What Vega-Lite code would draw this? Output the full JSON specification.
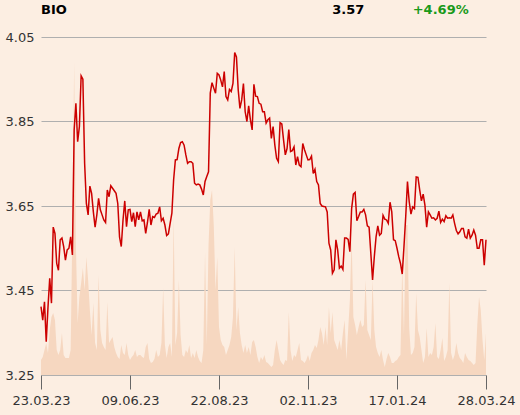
{
"$schema": "https://vega.github.io/schema/vega-lite/v6.json",
"width": 445, "height": 338,
"autosize": {"type": "none"},
"padding": {"left": 41, "top": 37, "right": 34, "bottom": 40},
"background": "#FCEEE2",
"config": {"view": {"stroke": null}, "font": "DejaVu Sans"},
"data": {"values": [
{"d":0,"p":3.412,"v":15},{"d":1,"p":3.380,"v":18},{"d":2,"p":3.423,"v":25},{"d":3,"p":3.329,"v":32},{"d":4,"p":3.410,"v":22},{"d":5,"p":3.479,"v":45},{"d":6,"p":3.420,"v":58},{"d":7,"p":3.600,"v":62},{"d":8,"p":3.585,"v":55},{"d":9,"p":3.514,"v":25},
{"d":10,"p":3.498,"v":20},{"d":11,"p":3.570,"v":25},{"d":12,"p":3.574,"v":42},{"d":13,"p":3.554,"v":20},{"d":14,"p":3.522,"v":17},{"d":15,"p":3.546,"v":17},{"d":16,"p":3.550,"v":17},{"d":17,"p":3.577,"v":25},{"d":18,"p":3.534,"v":150},{"d":19,"p":3.830,"v":313},
{"d":20,"p":3.893,"v":130},{"d":21,"p":3.802,"v":52},{"d":22,"p":3.838,"v":78},{"d":23,"p":3.958,"v":92},{"d":24,"p":3.950,"v":107},{"d":25,"p":3.751,"v":85},{"d":26,"p":3.656,"v":118},{"d":27,"p":3.629,"v":95},{"d":28,"p":3.697,"v":65},{"d":29,"p":3.680,"v":40},
{"d":30,"p":3.636,"v":72},{"d":31,"p":3.600,"v":32},{"d":32,"p":3.629,"v":25},{"d":33,"p":3.668,"v":100},{"d":34,"p":3.641,"v":45},{"d":35,"p":3.629,"v":32},{"d":36,"p":3.617,"v":28},{"d":37,"p":3.611,"v":25},{"d":38,"p":3.688,"v":73},{"d":39,"p":3.672,"v":32},
{"d":40,"p":3.698,"v":35},{"d":41,"p":3.692,"v":38},{"d":42,"p":3.686,"v":28},{"d":43,"p":3.680,"v":22},{"d":44,"p":3.656,"v":18},{"d":45,"p":3.577,"v":16},{"d":46,"p":3.554,"v":30},{"d":47,"p":3.617,"v":22},{"d":48,"p":3.662,"v":20},{"d":49,"p":3.601,"v":32},
{"d":50,"p":3.641,"v":20},{"d":51,"p":3.642,"v":15},{"d":52,"p":3.613,"v":18},{"d":53,"p":3.634,"v":20},{"d":54,"p":3.601,"v":25},{"d":55,"p":3.636,"v":18},{"d":56,"p":3.617,"v":20},{"d":57,"p":3.636,"v":20},{"d":58,"p":3.615,"v":18},{"d":59,"p":3.617,"v":17},
{"d":60,"p":3.585,"v":28},{"d":61,"p":3.611,"v":32},{"d":62,"p":3.642,"v":16},{"d":63,"p":3.605,"v":12},{"d":64,"p":3.625,"v":13},{"d":65,"p":3.623,"v":16},{"d":66,"p":3.631,"v":25},{"d":67,"p":3.633,"v":18},{"d":68,"p":3.648,"v":20},{"d":69,"p":3.615,"v":32},
{"d":70,"p":3.621,"v":87},{"d":71,"p":3.605,"v":30},{"d":72,"p":3.580,"v":17},{"d":73,"p":3.584,"v":28},{"d":74,"p":3.609,"v":32},{"d":75,"p":3.633,"v":18},{"d":76,"p":3.712,"v":158},{"d":77,"p":3.759,"v":30},{"d":78,"p":3.760,"v":42},{"d":79,"p":3.786,"v":95},
{"d":80,"p":3.800,"v":40},{"d":81,"p":3.802,"v":20},{"d":82,"p":3.794,"v":18},{"d":83,"p":3.771,"v":25},{"d":84,"p":3.751,"v":22},{"d":85,"p":3.755,"v":30},{"d":86,"p":3.755,"v":17},{"d":87,"p":3.751,"v":22},{"d":88,"p":3.704,"v":17},{"d":89,"p":3.700,"v":25},
{"d":90,"p":3.702,"v":18},{"d":91,"p":3.700,"v":14},{"d":92,"p":3.690,"v":12},{"d":93,"p":3.676,"v":25},{"d":94,"p":3.708,"v":123},{"d":95,"p":3.720,"v":30},{"d":96,"p":3.731,"v":130},{"d":97,"p":3.917,"v":175},{"d":98,"p":3.942,"v":185},{"d":99,"p":3.929,"v":150},
{"d":100,"p":3.917,"v":85},{"d":101,"p":3.964,"v":118},{"d":102,"p":3.960,"v":48},{"d":103,"p":3.948,"v":35},{"d":104,"p":3.932,"v":30},{"d":105,"p":3.968,"v":28},{"d":106,"p":3.909,"v":20},{"d":107,"p":3.901,"v":25},{"d":108,"p":3.926,"v":30},{"d":109,"p":3.921,"v":38},
{"d":110,"p":3.940,"v":58},{"d":111,"p":4.013,"v":128},{"d":112,"p":4.003,"v":45},{"d":113,"p":3.925,"v":68},{"d":114,"p":3.881,"v":42},{"d":115,"p":3.901,"v":30},{"d":116,"p":3.940,"v":22},{"d":117,"p":3.873,"v":30},{"d":118,"p":3.850,"v":22},{"d":119,"p":3.887,"v":28},
{"d":120,"p":3.854,"v":20},{"d":121,"p":3.830,"v":33},{"d":122,"p":3.938,"v":35},{"d":123,"p":3.910,"v":28},{"d":124,"p":3.909,"v":18},{"d":125,"p":3.893,"v":12},{"d":126,"p":3.891,"v":18},{"d":127,"p":3.873,"v":15},{"d":128,"p":3.873,"v":20},{"d":129,"p":3.846,"v":13},
{"d":130,"p":3.854,"v":12},{"d":131,"p":3.858,"v":10},{"d":132,"p":3.810,"v":8},{"d":133,"p":3.838,"v":10},{"d":134,"p":3.794,"v":25},{"d":135,"p":3.763,"v":35},{"d":136,"p":3.755,"v":25},{"d":137,"p":3.847,"v":15},{"d":138,"p":3.844,"v":12},{"d":139,"p":3.806,"v":10},
{"d":140,"p":3.771,"v":15},{"d":141,"p":3.786,"v":14},{"d":142,"p":3.831,"v":63},{"d":143,"p":3.779,"v":25},{"d":144,"p":3.781,"v":14},{"d":145,"p":3.790,"v":20},{"d":146,"p":3.747,"v":18},{"d":147,"p":3.767,"v":25},{"d":148,"p":3.747,"v":32},{"d":149,"p":3.743,"v":15},
{"d":150,"p":3.798,"v":14},{"d":151,"p":3.783,"v":12},{"d":152,"p":3.771,"v":15},{"d":153,"p":3.759,"v":20},{"d":154,"p":3.760,"v":14},{"d":155,"p":3.768,"v":22},{"d":156,"p":3.727,"v":25},{"d":157,"p":3.737,"v":30},{"d":158,"p":3.708,"v":27},{"d":159,"p":3.700,"v":35},
{"d":160,"p":3.656,"v":48},{"d":161,"p":3.650,"v":42},{"d":162,"p":3.649,"v":30},{"d":163,"p":3.648,"v":48},{"d":164,"p":3.636,"v":30},{"d":165,"p":3.562,"v":68},{"d":166,"p":3.546,"v":42},{"d":167,"p":3.491,"v":63},{"d":168,"p":3.499,"v":35},{"d":169,"p":3.570,"v":30},
{"d":170,"p":3.546,"v":25},{"d":171,"p":3.503,"v":35},{"d":172,"p":3.508,"v":25},{"d":173,"p":3.500,"v":42},{"d":174,"p":3.574,"v":55},{"d":175,"p":3.574,"v":15},{"d":176,"p":3.571,"v":45},{"d":177,"p":3.542,"v":75},{"d":178,"p":3.644,"v":138},{"d":179,"p":3.678,"v":58},
{"d":180,"p":3.682,"v":50},{"d":181,"p":3.615,"v":40},{"d":182,"p":3.625,"v":48},{"d":183,"p":3.636,"v":55},{"d":184,"p":3.636,"v":48},{"d":185,"p":3.642,"v":50},{"d":186,"p":3.629,"v":95},{"d":187,"p":3.603,"v":45},{"d":188,"p":3.600,"v":40},{"d":189,"p":3.538,"v":35},
{"d":190,"p":3.475,"v":95},{"d":191,"p":3.530,"v":45},{"d":192,"p":3.577,"v":28},{"d":193,"p":3.603,"v":22},{"d":194,"p":3.581,"v":18},{"d":195,"p":3.585,"v":25},{"d":196,"p":3.628,"v":15},{"d":197,"p":3.619,"v":8},{"d":198,"p":3.617,"v":16},{"d":199,"p":3.609,"v":22},
{"d":200,"p":3.659,"v":18},{"d":201,"p":3.636,"v":12},{"d":202,"p":3.570,"v":12},{"d":203,"p":3.568,"v":14},{"d":204,"p":3.550,"v":15},{"d":205,"p":3.530,"v":18},{"d":206,"p":3.514,"v":20},{"d":207,"p":3.489,"v":110},{"d":208,"p":3.554,"v":40},{"d":209,"p":3.625,"v":150},
{"d":210,"p":3.708,"v":150},{"d":211,"p":3.660,"v":47},{"d":212,"p":3.631,"v":20},{"d":213,"p":3.648,"v":22},{"d":214,"p":3.644,"v":28},{"d":215,"p":3.719,"v":82},{"d":216,"p":3.718,"v":45},{"d":217,"p":3.688,"v":38},{"d":218,"p":3.662,"v":25},{"d":219,"p":3.678,"v":12},
{"d":220,"p":3.652,"v":18},{"d":221,"p":3.600,"v":47},{"d":222,"p":3.636,"v":18},{"d":223,"p":3.629,"v":22},{"d":224,"p":3.621,"v":20},{"d":225,"p":3.622,"v":28},{"d":226,"p":3.617,"v":52},{"d":227,"p":3.621,"v":18},{"d":228,"p":3.638,"v":16},{"d":229,"p":3.611,"v":25},
{"d":230,"p":3.619,"v":37},{"d":231,"p":3.613,"v":14},{"d":232,"p":3.627,"v":18},{"d":233,"p":3.621,"v":25},{"d":234,"p":3.622,"v":92},{"d":235,"p":3.621,"v":22},{"d":236,"p":3.629,"v":15},{"d":237,"p":3.609,"v":20},{"d":238,"p":3.592,"v":32},{"d":239,"p":3.584,"v":22},
{"d":240,"p":3.589,"v":17},{"d":241,"p":3.597,"v":15},{"d":242,"p":3.597,"v":12},{"d":243,"p":3.577,"v":22},{"d":244,"p":3.574,"v":18},{"d":245,"p":3.595,"v":15},{"d":246,"p":3.574,"v":14},{"d":247,"p":3.581,"v":12},{"d":248,"p":3.593,"v":10},{"d":249,"p":3.581,"v":12},
{"d":250,"p":3.550,"v":50},{"d":251,"p":3.550,"v":78},{"d":252,"p":3.570,"v":65},{"d":253,"p":3.570,"v":35},{"d":254,"p":3.510,"v":15},{"d":255,"p":3.570,"v":42}
]},
"layer": [
  {
    "mark": {"type": "area", "color": "#F6D7C0", "opacity": 1},
    "encoding": {
      "x": {"field": "d", "type": "quantitative", "scale": {"domain": [0, 255], "nice": false},
        "axis": {"title": null, "grid": false, "domain": false, "values": [0, 51, 102, 153, 204, 255],
          "labelExpr": "datum.value == 0 ? '23.03.23' : datum.value == 51 ? '09.06.23' : datum.value == 102 ? '22.08.23' : datum.value == 153 ? '02.11.23' : datum.value == 204 ? '17.01.24' : '28.03.24'",
          "tickSize": 14, "tickColor": "#666666", "labelPadding": 5, "labelFontSize": 13, "labelColor": "#333333", "labelFlush": false, "labelOverlap": false}},
      "y": {"field": "v", "type": "quantitative", "scale": {"domain": [0, 338], "nice": false}, "axis": null}
    }
  },
  {
    "layer": [
      {
        "mark": {"type": "line", "color": "#CC0000", "strokeWidth": 1.5},
        "encoding": {
          "x": {"field": "d", "type": "quantitative"},
          "y": {"field": "p", "type": "quantitative", "scale": {"domain": [3.25, 4.05], "nice": false, "zero": false},
            "axis": {"title": null, "values": [3.25, 3.45, 3.65, 3.85, 4.05], "format": ".2f", "ticks": false, "domain": false,
              "grid": true, "gridColor": "#AFAFAF", "gridWidth": 1, "labelPadding": 7, "labelFontSize": 13, "labelColor": "#333333"}}
        }
      },
      {
        "data": {"values": [{}]},
        "mark": {"type": "text", "text": "BIO", "fontWeight": "bold", "fontSize": 13, "align": "left", "baseline": "middle", "color": "#000000"},
        "encoding": {"x": {"datum": 0, "type": "quantitative"}, "y": {"datum": 4.115, "type": "quantitative"}}
      },
      {
        "data": {"values": [{}]},
        "mark": {"type": "text", "text": "3.57", "fontWeight": "bold", "fontSize": 13, "align": "left", "baseline": "middle", "color": "#000000"},
        "encoding": {"x": {"datum": 166.9, "type": "quantitative"}, "y": {"datum": 4.114, "type": "quantitative"}}
      },
      {
        "data": {"values": [{}]},
        "mark": {"type": "text", "text": "+4.69%", "fontWeight": "bold", "fontSize": 13, "align": "left", "baseline": "middle", "color": "#1A9A1A"},
        "encoding": {"x": {"datum": 213, "type": "quantitative"}, "y": {"datum": 4.114, "type": "quantitative"}}
      }
    ]
  }
],
"resolve": {"scale": {"y": "independent"}}
}
